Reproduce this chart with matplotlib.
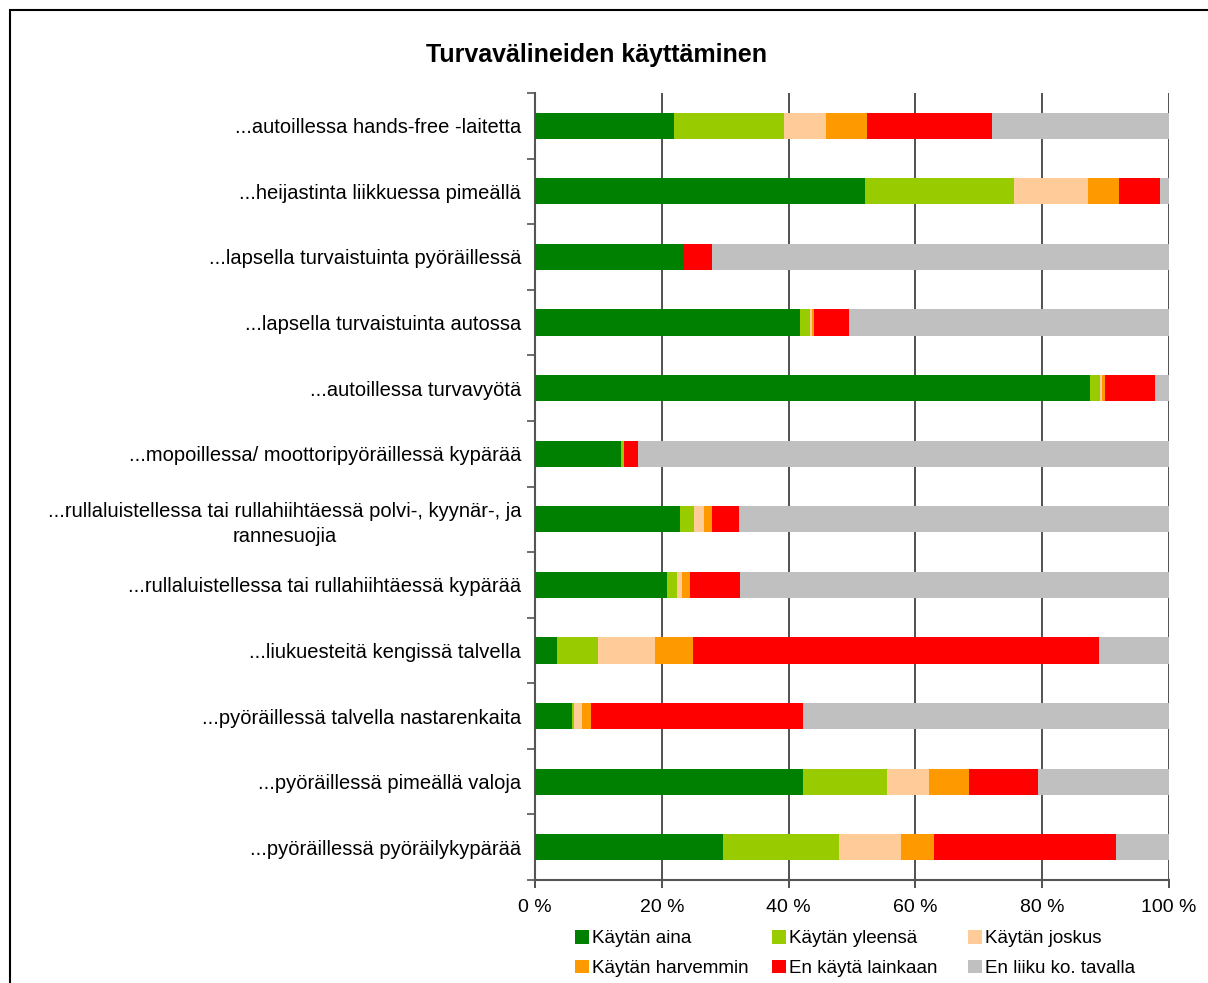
import matplotlib
matplotlib.use("Agg")
import matplotlib.pyplot as plt
import matplotlib.patches as mpatches
import numpy as np

plt.rcParams['font.family'] = ['Liberation Sans', 'DejaVu Sans']

categories = [
    "...autoillessa hands-free -laitetta",
    "...heijastinta liikkuessa pimeällä",
    "...lapsella turvaistuinta pyöräillessä",
    "...lapsella turvaistuinta autossa",
    "...autoillessa turvavyötä",
    "...mopoillessa/ moottoripyöräillessä kypärää",
    "...rullaluistellessa tai rullahiihtäessä polvi-, kyynär-, ja\nrannesuojia",
    "...rullaluistellessa tai rullahiihtäessä kypärää",
    "...liukuesteitä kengissä talvella",
    "...pyöräillessä talvella nastarenkaita",
    "...pyöräillessä pimeällä valoja",
    "...pyöräillessä pyöräilykypärää",
]

series_names = ["Käytän aina", "Käytän yleensä", "Käytän joskus",
                "Käytän harvemmin", "En käytä lainkaan", "En liiku ko. tavalla"]
colors = ["#008000", "#99CC00", "#FFCC99", "#FF9900", "#FF0000", "#C0C0C0"]

kaytan_aina      = [21.9, 52.1, 23.5, 41.9, 87.5, 13.6, 22.9, 20.8, 3.5, 5.8, 42.3, 29.7]
kaytan_yleensa   = [17.4, 23.5, 0.0, 1.5, 1.6, 0.4, 2.2, 1.6, 6.4, 0.4, 13.2, 18.2]
kaytan_joskus    = [6.6, 11.6, 0.0, 0.3, 0.4, 0.0, 1.6, 0.8, 9.0, 1.2, 6.6, 9.8]
kaytan_harvemmin = [6.5, 4.9, 0.0, 0.4, 0.4, 0.0, 1.2, 1.2, 6.0, 1.4, 6.4, 5.2]
en_kayta         = [19.7, 6.5, 4.4, 5.4, 7.9, 2.2, 4.3, 7.9, 64.1, 33.5, 10.8, 28.7]
en_liiku         = [27.9, 1.4, 72.1, 50.6, 2.2, 83.8, 67.8, 67.7, 11.0, 57.7, 20.7, 8.4]

series = [kaytan_aina, kaytan_yleensa, kaytan_joskus, kaytan_harvemmin, en_kayta, en_liiku]

xticks = [0, 20, 40, 60, 80, 100]
xticklabels = ["0 %", "20 %", "40 %", "60 %", "80 %", "100 %"]

fig = plt.figure(figsize=(12.08, 9.83), dpi=100)
ax = fig.add_axes([535/1208, 1-880/983, (1169-535)/1208, (880-93)/983])

data = np.array(series, dtype=float)
totals = data.sum(axis=0)
pct = data / totals * 100
y = np.arange(len(categories))
left = np.zeros(len(categories))
handles = []
for vals, name, c in zip(pct, series_names, colors):
    b = ax.barh(y, vals, left=left, height=0.4, color=c, label=name, zorder=3)
    left += vals
    handles.append(b)

ax.set_ylim(len(categories) - 0.5, -0.5)
ax.set_xlim(0, 100)
ax.set_xticks(xticks)
ax.set_xticklabels(xticklabels, fontsize=14)
ax.xaxis.grid(True, color='#333333', linewidth=1.2, zorder=0)
ax.set_axisbelow(True)

ax.set_yticks(y)
ax.set_yticklabels(categories, fontsize=14.5, ha='right', multialignment='center',
                   linespacing=1.35)
ax.tick_params(axis='y', length=0, pad=10)
ax.set_yticks(np.arange(-0.5, len(categories) + 0.5, 1), minor=True)
ax.tick_params(axis='y', which='minor', length=6, width=1.2, color='#555555')
ax.tick_params(axis='x', length=6, width=1.2, color='#333333', pad=8)

for s in ['top', 'right']:
    ax.spines[s].set_visible(False)
for s in ['left', 'bottom']:
    ax.spines[s].set_color('#555555')
    ax.spines[s].set_linewidth(1.5)

fig.text(597/1208, 1-55/983, "Turvavälineiden käyttäminen", fontsize=18,
         fontweight='bold', ha='center', va='center')

# legend: 3 columns, filled row by row, placed column by column
col_x = [575, 772, 968]
for ci, xpx in enumerate(col_x):
    idx = [ci, ci + 3]
    lg = fig.legend([handles[i] for i in idx], [series_names[i] for i in idx],
                    loc='upper left', bbox_to_anchor=(xpx/1208, 1-930/983),
                    frameon=False, fontsize=13.5, handlelength=0.75,
                    handleheight=0.75, handletextpad=0.15, labelspacing=0.65,
                    borderpad=0, borderaxespad=0)

rect = mpatches.Rectangle((10/1208, -0.05), 1.2, 1 - 10/983 + 0.05,
                          transform=fig.transFigure, fill=False,
                          edgecolor='black', linewidth=1.5, clip_on=False)
fig.patches.append(rect)

fig.savefig("out.png", dpi=100)
